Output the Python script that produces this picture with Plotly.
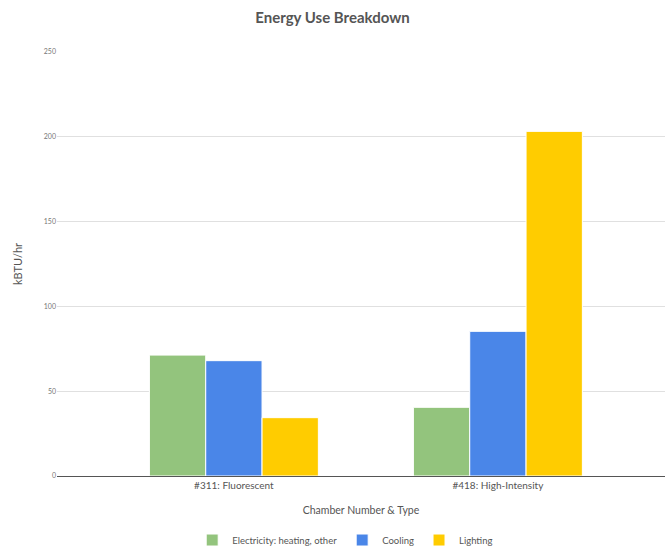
import plotly.graph_objects as go

categories = ["#311: Fluorescent", "#418: High-Intensity"]
series_names = ["Electricity: heating, other", "Cooling", "Lighting"]
electricity = [71.3, 40.5]
cooling = [68.0, 85.3]
lighting = [34.4, 203.2]
colors = ["#93c47d", "#4a86e8", "#ffcc00"]
y_ticks = [0, 50, 100, 150, 200, 250]

FONT = "Lato, Open Sans, sans-serif"

fig = go.Figure()
for name, vals, col in zip(series_names, [electricity, cooling, lighting], colors):
    fig.add_trace(go.Bar(
        x=categories, y=vals, name=name,
        marker=dict(color=col, line=dict(color="white", width=1)),
    ))

fig.update_layout(
    width=665, height=547,
    margin=dict(l=57, r=0, t=52, b=71, autoexpand=False),
    paper_bgcolor="white", plot_bgcolor="white",
    barmode="group", bargap=0.36, bargroupgap=0,
    font=dict(family=FONT, color="#555555"),
    title=dict(text="<b>Energy Use Breakdown</b>", x=0.5, xanchor="center",
               y=1 - 18 / 547, yanchor="middle",
               font=dict(size=15, color="#555555", family=FONT)),
    showlegend=True,
    legend=dict(orientation="h", x=0.474, xanchor="center", y=-0.151, yanchor="middle",
                font=dict(size=9.5, color="#555555"), itemwidth=30,
                traceorder="normal"),
    xaxis=dict(
        type="category", range=[-0.67, 1.633], automargin=False,
        showgrid=False, showline=True, linecolor="#555555", linewidth=1,
        ticks="", tickfont=dict(size=10, color="#555555"),
        title=dict(text="Chamber Number & Type", font=dict(size=10.5, color="#555555"),
                   standoff=16),
    ),
    yaxis=dict(
        range=[0, 250], tickvals=y_ticks, automargin=False,
        showgrid=True, gridcolor="#e0e0e0", gridwidth=1,
        zeroline=True, zerolinecolor="#555555", zerolinewidth=1,
        showline=False, ticks="",
        tickfont=dict(size=7, color="#777777"),
        title=dict(text="kBTU/hr", font=dict(size=11, color="#555555"), standoff=18),
    ),
)

fig.write_html("out.html")
